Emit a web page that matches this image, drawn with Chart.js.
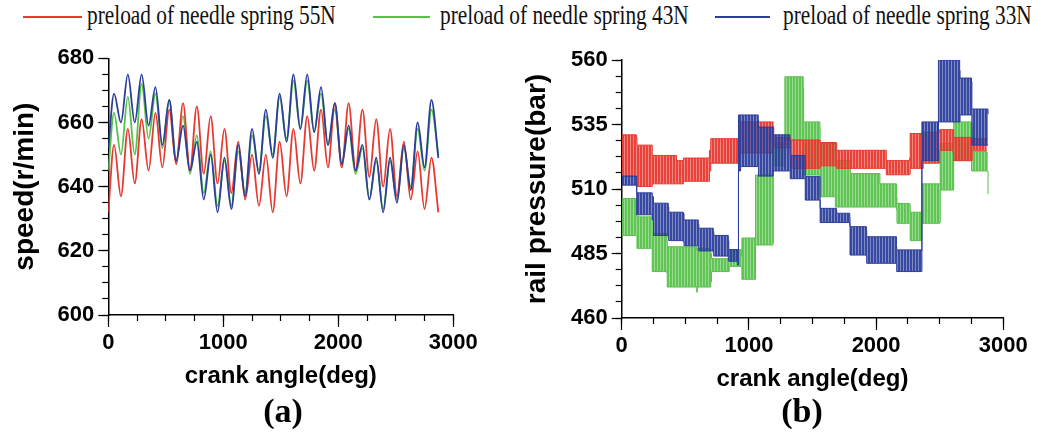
<!DOCTYPE html>
<html>
<head>
<meta charset="utf-8">
<script src="https://cdn.jsdelivr.net/npm/chart.js@4.4.1/dist/chart.umd.min.js"></script>
<style>
  html, body { margin:0; padding:0; background:#fff; }
  body { width:1041px; height:436px; position:relative; overflow:hidden; }
  canvas { position:absolute; }
  .lg-line { position:absolute; height:2px; }
  .lg-text { position:absolute; font-family:'Liberation Serif','Times New Roman',serif; font-size:27px; line-height:27px; color:#111; white-space:nowrap; transform:scaleX(0.79); transform-origin:0 0; }
  .cap { position:absolute; width:120px; text-align:center; font-family:'Liberation Serif','Times New Roman',serif; font-weight:bold; font-size:34px; line-height:34px; color:#000; }
</style>
</head>
<body>
<div class="lg-line" style="left:23px;top:16px;width:59px;background:#e6392f"></div>
<div class="lg-text" style="left:87px;top:2px">preload of needle spring 55N</div>
<div class="lg-line" style="left:373px;top:16px;width:57px;background:#57c24b"></div>
<div class="lg-text" style="left:440px;top:2px">preload of needle spring 43N</div>
<div class="lg-line" style="left:715px;top:16px;width:55px;background:#2c3e9c"></div>
<div class="lg-text" style="left:783px;top:2px">preload of needle spring 33N</div>

<canvas id="ca" width="500" height="370" style="left:0px;top:30px;width:500px;height:370px"></canvas>
<canvas id="cb" width="521" height="370" style="left:520px;top:30px;width:521px;height:370px"></canvas>

<div class="cap" style="left:223px;top:394px">(a)</div>
<div class="cap" style="left:742px;top:394px">(b)</div>

<script>
// ---------- Panel (a): speed vs crank angle ----------
const speedAngle = [0,50,110,170,230,290,350,410,470,530,590,650,710,770,830,890,950,1010,1070,1130,1190,1250,1310,1370,1430,1490,1550,1610,1670,1730,1790,1850,1910,1970,2030,2090,2150,2210,2270,2330,2390,2450,2510,2570,2630,2690,2750,2810,2870];
const speed55N = [632,653,637,658,641,661,645,663,646,664,647,666,645,665,644,662,641,658,638,654,636,650,634,650,632,654,637,658,641,662,645,664,646,666,646,666,645,664,643,661,640,658,637,654,636,651,633,649,632];
const speed43N = [645,663,650,668,650,672,655,669,652,667,648,662,644,656,638,651,634,648,634,651,638,656,645,662,650,668,655,673,658,673,657,669,653,664,647,658,644,652,636,648,633,648,636,652,640,658,645,664,650];
const speed33N = [652,669,660,675,660,675,659,671,653,667,648,659,645,654,636,650,632,649,633,653,637,658,644,664,649,669,654,675,658,675,657,671,653,666,647,659,645,653,636,649,632,649,635,653,639,660,646,667,649];
const speedTicks = [600,620,640,660,680];

// ---------- Panel (b): rail pressure vs crank angle (upper / lower band envelopes) ----------
const p55Angle = [0,115,120,240,430,485,690,700,930,935,1190,1195,1320,1325,1560,1690,2080,2264,2268,2370,2500,2605,2610,2750,2755,2870];
const p55Top   = [531,530,527,523,521,522,525,529.5,531.5,536,534,530,530,529,528,525,521,522,531.5,532,533,533,530,527,529.5,529];
const p55Bot   = [515,514,511,512,512,513,517,520,523,524,526,526,526,518,519,518,515.5,516,518,520,525,524,521,521,525,525];

const p43Angle = [0,118,120,236,240,354,358,590,594,700,706,840,845,940,945,1050,1052,1188,1192,1280,1283,1427,1430,1558,1560,1676,1680,1794,1798,2030,2160,2164,2264,2268,2356,2360,2500,2504,2605,2610,2750,2755,2870,2880];
const p43Top   = [506.3,506,499.2,499,492.8,490.2,487.6,486.3,487,485,483,482,486.5,484,491,490,515.4,517,528,528,553.5,549,536,534,527.7,527,521,520,516,512,507,504.4,504,501,501,512,512,527.7,528,536,534,524.5,524,524];
const p43Bot   = [492,492,487,487,478,477.5,472,470,472,474,478,478,480,480,475,475,488.3,489,519,519,529,529,515.4,515.4,507,507,503,503,503,503,502,496.7,496.7,490,490,496.7,497,509.6,509.6,521,517,517,517,508];

const p33Angle = [0,115,118,240,250,366,370,484,490,602,606,720,724,838,842,912,918,935,1073,1075,1191,1195,1322,1325,1440,1443,1558,1560,1688,1690,1793,1795,1924,1926,2160,2162,2356,2360,2487,2490,2657,2660,2750,2753,2880];
const p33Top   = [515,515,508.5,507,504.5,503,501,500.5,498,496.5,494.8,493.5,492,490,486.5,486.3,538.7,538.7,536.7,534,530,531,529,523,523,514.8,514.8,502.5,502,500.6,499,495.4,494,491.5,487.7,486.4,486,536,532,560,556,553,551.6,541,539];
const p33Bot   = [511.5,511.5,500,498,492,490.5,490,489.5,488,487,486,485,484,482.5,482,480.5,517,518.7,518.7,515,517,517,517,514,514,505.7,505.7,497,497,497,496,484.4,484,481.2,481,478,478,521,521,536,536,538.7,538.7,527,527];
const pressureTicks = [460,485,510,535,560];

const xTicks = [0,1000,2000,3000];

// ---------- styling ----------
const COL = { n55:'#e6392f', n43:'#57c24b', n33:'#2c3e9c' };
const FAM = "'Liberation Sans',Arial,sans-serif";
const tickFont = { family: FAM, size: 22, weight: 'bold' };
const xTitleFont = { family: FAM, size: 24, weight: 'bold' };
const yTitleFont = { family: FAM, size: 28, weight: 'bold' };

function pts(xs, ys) { return xs.map((x, i) => ({ x: x, y: ys[i] })); }

// dense vertical-line texture like the original trace
function stripe(color) {
  const c = document.createElement('canvas');
  c.width = 3; c.height = 1;
  const g = c.getContext('2d');
  g.fillStyle = color;
  g.globalAlpha = 0.95; g.fillRect(0, 0, 2, 1);
  g.globalAlpha = 0.6; g.fillRect(2, 0, 1, 1);
  return g.createPattern(c, 'repeat');
}

function scalesFor(cfg) {
  return {
    x2: {
      type: 'linear', position: 'bottom', weight: 0,
      min: 0, max: 3000,
      ticks: { display: false, stepSize: cfg.xMinorStep },
      grid: { drawOnChartArea: false, tickLength: 6, tickColor: '#000', tickWidth: 1.2 },
      border: { display: false },
      afterFit: s => { s.height = 0; }
    },
    x: {
      type: 'linear', position: 'bottom', weight: 1,
      min: 0, max: 3000,
      afterBuildTicks: s => { s.ticks = xTicks.map(v => ({ value: v })); },
      ticks: { font: tickFont, color: '#000', padding: 3, maxRotation: 0, autoSkip: false, callback: v => String(v) },
      grid: { drawOnChartArea: false, tickLength: 12, tickColor: '#000', tickWidth: 1.2 },
      border: { display: true, color: '#000', width: 1.5 },
      title: { display: true, text: 'crank angle(deg)', font: xTitleFont, color: '#000', padding: { top: 0, bottom: cfg.xTitlePad } },
      afterFit: s => { s.height = cfg.xHeight; }
    },
    y2: {
      type: 'linear', position: 'left', weight: 0,
      min: cfg.yMin, max: cfg.yMax,
      ticks: { display: false, stepSize: cfg.yMinorStep },
      grid: { drawOnChartArea: false, tickLength: 6, tickColor: '#000', tickWidth: 1.2 },
      border: { display: false },
      afterFit: s => { s.width = 0; }
    },
    y: {
      type: 'linear', position: 'left', weight: 1,
      min: cfg.yMin, max: cfg.yMax,
      afterBuildTicks: s => { s.ticks = cfg.yTicks.map(v => ({ value: v })); },
      ticks: { font: tickFont, color: '#000', padding: cfg.yTickPad, autoSkip: false, callback: v => String(v) },
      grid: { drawOnChartArea: false, tickLength: 10, tickColor: '#000', tickWidth: 1.2 },
      border: { display: true, color: '#000', width: 1.5 },
      title: { display: true, text: cfg.yTitle, font: yTitleFont, color: '#000', padding: { top: cfg.yTitlePad, bottom: 0 } },
      afterFit: s => { s.width = cfg.yWidth; }
    }
  };
}

const common = {
  responsive: false, animation: false, devicePixelRatio: 1, events: [],
  plugins: { legend: { display: false }, tooltip: { enabled: false } },
  elements: { point: { radius: 0 } }
};

// Panel (a)
function speedDs(label, vals, color, order) {
  return { label, data: pts(speedAngle, vals), borderColor: color, borderWidth: 1.8, order,
           pointRadius: 0, fill: false, cubicInterpolationMode: 'monotone', xAxisID: 'x', yAxisID: 'y' };
}
new Chart(document.getElementById('ca'), {
  type: 'line',
  data: { datasets: [
    speedDs('preload of needle spring 33N', speed33N, COL.n33, 0),
    speedDs('preload of needle spring 55N', speed55N, COL.n55, 1),
    speedDs('preload of needle spring 43N', speed43N, COL.n43, 2)
  ] },
  options: Object.assign({}, common, {
    layout: { padding: { top: 28.3, right: 46.7, bottom: 0, left: 0 } },
    scales: scalesFor({ xMinorStep: 250, xTitlePad: 9, xHeight: 85,
      yMin: 600, yMax: 680, yMinorStep: 5, yTicks: speedTicks, yTickPad: 4,
      yTitle: 'speed(r/min)', yTitlePad: 8, yWidth: 108.3 })
  })
});

// Panel (b): each series = upper envelope (filled down to its lower envelope) + lower envelope
function bandDs(label, xs, top, bot, color, order) {
  return [
    { label, data: pts(xs, top), borderColor: color, borderWidth: 1, pointRadius: 0, order,
      fill: { target: '+1' }, backgroundColor: stripe(color), stepped: 'before', xAxisID: 'x', yAxisID: 'y' },
    { label: label + ' lower', data: pts(xs, bot), borderColor: color, borderWidth: 1, pointRadius: 0, order,
      fill: false, stepped: 'before', xAxisID: 'x', yAxisID: 'y' }
  ];
}
new Chart(document.getElementById('cb'), {
  type: 'line',
  data: { datasets: [].concat(
    bandDs('preload of needle spring 33N', p33Angle, p33Top, p33Bot, COL.n33, 0),
    bandDs('preload of needle spring 55N', p55Angle, p55Top, p55Bot, COL.n55, 1),
    bandDs('preload of needle spring 43N', p43Angle, p43Top, p43Bot, COL.n43, 2)
  ) },
  options: Object.assign({}, common, {
    layout: { padding: { top: 30, right: 37.7, bottom: 0, left: 0 } },
    scales: scalesFor({ xMinorStep: 250, xTitlePad: 6, xHeight: 82,
      yMin: 460, yMax: 560, yMinorStep: 6.25, yTicks: pressureTicks, yTickPad: 4,
      yTitle: 'rail pressure(bar)', yTitlePad: 0, yWidth: 101.7 })
  })
});
</script>
</body>
</html>
